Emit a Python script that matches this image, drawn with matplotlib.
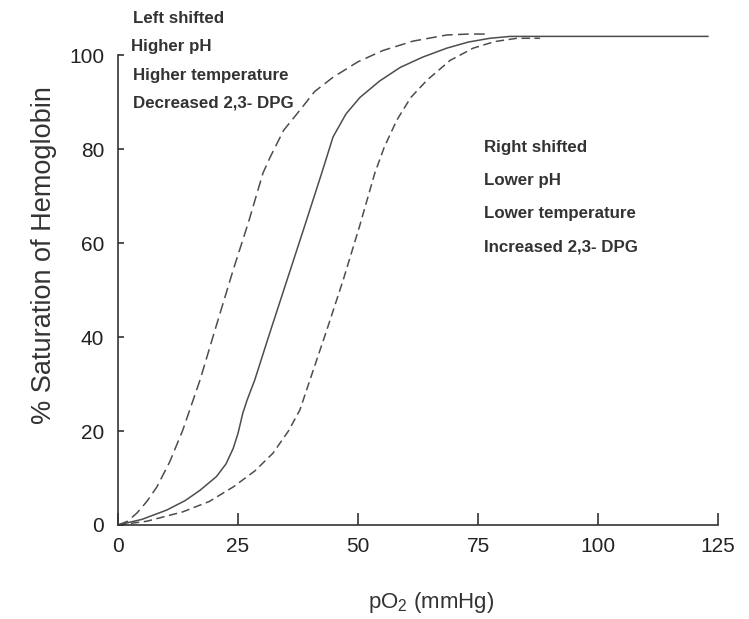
import matplotlib
matplotlib.use("Agg")
import matplotlib.pyplot as plt
from matplotlib import font_manager

names = {f.name for f in font_manager.fontManager.ttflist}
NARROW = "Liberation Sans Narrow" if "Liberation Sans Narrow" in names else "Liberation Sans"

plt.rcParams["mathtext.fontset"] = "custom"
plt.rcParams["mathtext.rm"] = NARROW
plt.rcParams["mathtext.it"] = NARROW

# ---- data ----
normal_x = [0, 5, 10.2, 14, 17.1, 20.5, 22.5, 24, 25, 26, 26.9, 28.5, 31.5, 35.2, 39, 42.5, 44.8, 47.5, 50.4, 54.5, 58.8, 63.5, 68.5, 73, 77.5, 81.7, 86, 122.9]
normal_y = [0, 1.2, 3.2, 5.2, 7.4, 10.3, 13, 16.3, 19.5, 23.8, 26.6, 30.9, 40.5, 52.1, 64, 75.1, 82.6, 87.5, 91, 94.5, 97.4, 99.6, 101.5, 102.8, 103.6, 104, 104, 104]

left_x = [0, 2, 4.0, 6, 8.1, 10.8, 13.5, 17.1, 20.5, 24, 27.2, 30.2, 31.7, 34.5, 37.9, 41, 44.8, 50, 55.2, 61.5, 68.5, 73, 77.5]
left_y = [0, 0.8, 2.6, 5, 8.1, 13.5, 20.2, 30.9, 42.5, 54.3, 64.5, 74.9, 78.3, 84, 88.3, 92.3, 95.3, 98.6, 101, 103, 104.3, 104.5, 104.5]

right_x = [0, 6, 13.5, 19, 24, 28.5, 32.3, 35.5, 37.9, 40, 43.5, 46.9, 50.3, 53.5, 55.5, 58.1, 61, 64.4, 69.2, 74, 78.5, 83.1, 87.9]
right_y = [0, 0.8, 2.8, 5, 8.1, 11.5, 15.3, 20, 24.5, 30.9, 41.5, 52.1, 63.5, 74.9, 80.5, 86.2, 91, 94.7, 98.9, 101.5, 102.9, 103.6, 103.6]

x_ticks = [0, 25, 50, 75, 100, 125]
y_ticks = [0, 20, 40, 60, 80, 100]

left_notes = ["Left shifted", "Higher pH", "Higher temperature", "Decreased 2,3- DPG"]
left_note_pos = [(3.1, 107.9), (2.7, 101.9), (3.1, 95.7), (3.1, 89.8)]
right_notes = ["Right shifted", "Lower pH", "Lower temperature", "Increased 2,3- DPG"]
right_note_pos = [(76.25, 80.4), (76.25, 73.4), (76.25, 66.2), (76.25, 59.1)]

# ---- figure ----
fig = plt.figure(figsize=(7.49, 6.19), dpi=100)
ax = fig.add_axes([118 / 749, 1 - 525 / 619, 600 / 749, 498 / 619])

line_col = "#4d4d4d"
ax.plot(normal_x, normal_y, color=line_col, lw=1.1)
l1, = ax.plot(left_x, left_y, color=line_col, lw=1.1)
l1.set_dashes([7, 3.5])
l2, = ax.plot(right_x, right_y, color=line_col, lw=1.1)
l2.set_dashes([5.5, 3])

ax.set_xlim(0, 125)
ax.set_ylim(0, 106)
ax.spines["top"].set_visible(False)
ax.spines["right"].set_visible(False)
ax.spines["left"].set_bounds(0, 100)
for s in ("left", "bottom"):
    ax.spines[s].set_color("#333333")
    ax.spines[s].set_linewidth(1.2)

ax.set_xticks(x_ticks)
ax.set_yticks(y_ticks)
ax.tick_params(axis="x", direction="in", length=9, width=1.2, color="#333333", pad=9,
               labelsize=15, labelcolor="#222222")
ax.tick_params(axis="y", direction="in", length=4.5, width=1.2, color="#333333", pad=10,
               labelsize=15, labelcolor="#222222")
for lab in ax.get_xticklabels() + ax.get_yticklabels():
    lab.set_fontfamily(NARROW)

ax.set_xlabel("pO$_2$ (mmHg)", fontsize=16, fontfamily=NARROW, color="#333333")
ax.xaxis.set_label_coords((431 - 118) / 600, -0.13)
ax.set_ylabel("% Saturation of Hemoglobin", fontsize=19.5, fontfamily="Liberation Sans",
              color="#333333")
ax.yaxis.set_label_coords(-0.102, 0.542)

for t, (x, y) in zip(left_notes, left_note_pos):
    ax.text(x, y, t, fontsize=12.2, fontweight="bold", fontfamily=NARROW, color="#333333",
            ha="left", va="center", clip_on=False)
for t, (x, y) in zip(right_notes, right_note_pos):
    ax.text(x, y, t, fontsize=12.2, fontweight="bold", fontfamily=NARROW, color="#333333",
            ha="left", va="center", clip_on=False)

fig.savefig("out.png", dpi=100)
